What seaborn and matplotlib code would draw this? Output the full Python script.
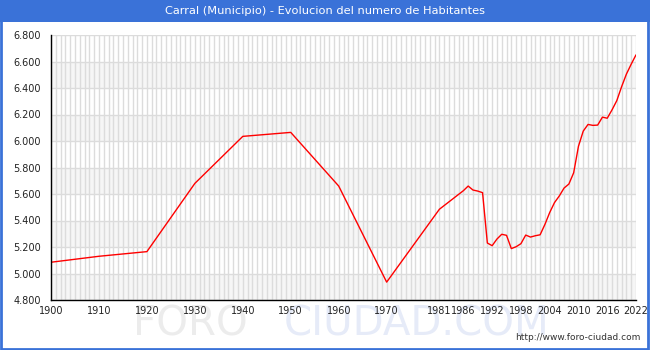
import matplotlib
matplotlib.use("Agg")
import matplotlib.pyplot as plt
import matplotlib.ticker as mticker
from matplotlib.patches import Rectangle
import seaborn as sns
import pandas as pd

# Population of Carral (census years, then yearly registers)
years = [1900, 1910, 1920, 1930, 1940, 1950, 1960, 1970, 1981,
         1986, 1987, 1988, 1989, 1990, 1991, 1992, 1993, 1994, 1995,
         1996, 1997, 1998, 1999, 2000, 2001, 2002, 2003, 2004, 2005,
         2006, 2007, 2008, 2009, 2010, 2011, 2012, 2013, 2014, 2015,
         2016, 2017, 2018, 2019, 2020, 2021, 2022]
population = [5085, 5130, 5165, 5680, 6035, 6065, 5660, 4935, 5485,
              5625, 5660, 5630, 5622, 5610, 5230, 5210, 5260, 5296, 5288,
              5188, 5202, 5225, 5290, 5275, 5285, 5292, 5370, 5460, 5535,
              5585, 5645, 5675, 5760, 5960, 6075, 6125, 6118, 6120, 6180,
              6172, 6235, 6305, 6410, 6505, 6580, 6650]
xtick_years = [1900, 1910, 1920, 1930, 1940, 1950, 1960, 1970, 1981,
               1986, 1992, 1998, 2004, 2010, 2016, 2022]
title = "Carral (Municipio) - Evolucion del numero de Habitantes"

df = pd.DataFrame({"year": years, "habitantes": population})

sns.set_style("white")
plt.rcParams["font.family"] = ["DejaVu Sans"]

W, H = 650, 350
fig = plt.figure(figsize=(W / 100, H / 100), dpi=100)
blue = "#3a72d8"

# header band and frame
fig.patches.append(Rectangle((0, 1 - 22 / H), 1, 22 / H, transform=fig.transFigure,
                             facecolor=blue, edgecolor="none", zorder=0))
fig.patches.append(Rectangle((1 / W, 1 / H), 1 - 3 / W, 1 - 2 / H, transform=fig.transFigure,
                             facecolor="none", edgecolor=blue, linewidth=2, zorder=5))
fig.text(0.5, 1 - 11 / H, title, color="white", ha="center", va="center", fontsize=8.2)

# faint site watermark, kept behind the axes and its labels
bg = fig.add_axes([0, 0, 1, 1], zorder=0)
bg.set_axis_off()
bg.text(133 / W, 25 / H, "FORO", color="#ececec", fontsize=29, ha="left", va="center",
        transform=bg.transAxes)
bg.text(284 / W, 25 / H, "CIUDAD.COM", color="#e6ebf8", fontsize=29, ha="left", va="center",
        transform=bg.transAxes)
fig.text(1 - 10 / W, 12 / H, "http://www.foro-ciudad.com", color="#333333", fontsize=6.5,
         ha="right", va="center")

left, right, top, bottom = 51, 636, 35, 300
ax = fig.add_axes([left / W, 1 - bottom / H, (right - left) / W, (bottom - top) / H], zorder=2)
ax.patch.set_alpha(0)

# alternating horizontal bands
for lo in range(4800, 6800, 400):
    ax.axhspan(lo, lo + 200, facecolor="#f6f6f6", edgecolor="none", zorder=0)

sns.lineplot(data=df, x="year", y="habitantes", color="red", linewidth=1, ax=ax, zorder=3)

ax.set_xlim(1900, 2022)
ax.set_ylim(4800, 6800)
ax.set_xticks(xtick_years)
ax.set_xticks(range(1900, 2023), minor=True)
ax.set_yticks(range(4800, 6801, 200))
ax.set_yticks(range(4800, 6801, 100), minor=True)
ax.yaxis.set_major_formatter(mticker.FuncFormatter(lambda v, p: f"{int(v):,}".replace(",", ".")))

ax.grid(True, which="both", axis="x", color="#dcdcdc", linewidth=1, zorder=1)
ax.grid(True, which="major", axis="y", color="#dcdcdc", linewidth=1, zorder=1)
ax.set_axisbelow(True)

ax.tick_params(axis="both", which="both", direction="in", length=4, width=1, color="black",
               labelsize=7, labelcolor="#222222")
ax.tick_params(axis="x", which="both", top=False, pad=4)
ax.tick_params(axis="y", which="both", right=False, pad=7)

for s in ["top", "right"]:
    ax.spines[s].set_visible(False)
for s in ["left", "bottom"]:
    ax.spines[s].set_color("black")
    ax.spines[s].set_linewidth(1)
    ax.spines[s].set_zorder(4)

ax.set_xlabel("")
ax.set_ylabel("")

fig.savefig("out.png", dpi=100)
